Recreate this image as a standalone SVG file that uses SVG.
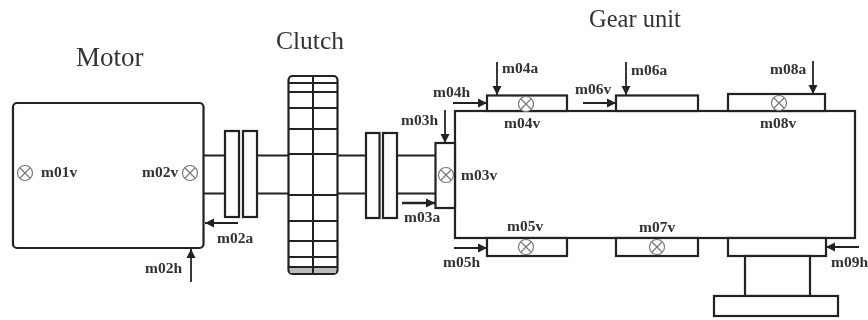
<svg xmlns="http://www.w3.org/2000/svg" width="868" height="320" viewBox="0 0 868 320">
<style>
.s{fill:#fff;stroke:#222;stroke-width:2.2}
.l{fill:none;stroke:#222;stroke-width:2}
.a{fill:none;stroke:#222;stroke-width:1.8;marker-end:url(#ah)}
.t{font-family:"Liberation Serif",serif;fill:#333}
.m{font-family:"Liberation Serif",serif;font-size:15.500px;font-weight:bold;fill:#333}
.c{fill:#fff;stroke:#777;stroke-width:1.200}
</style>
<defs>
<marker id="ah" markerUnits="userSpaceOnUse" markerWidth="10" markerHeight="10" refX="9" refY="5" orient="auto"><path d="M0 0.500L9 5L0 9.500Z" fill="#222"/></marker>
<g id="x"><circle class="c" r="7.500"/><path class="c" d="M-5-5L5 5M-5 5L5-5" fill="none"/></g>
<filter id="b" x="0" y="0" width="868" height="320" filterUnits="userSpaceOnUse"><feGaussianBlur stdDeviation="0.600"/></filter>
</defs>
<rect width="868" height="320" fill="#fff"/>
<g filter="url(#b)">
<g id="connectors">
<path class="l" d="M204 155.500H225M204 193.500H225M257 155.500H288M257 193.500H288M338 155.500H366M338 193.500H366M397 155.500H435M397 193.500H435"/>
<path class="a" d="M238 223H205"/>
<path class="a" d="M191 282V249"/>
<path class="a" d="M402 203H435" style="stroke-width:2.600"/>
<path class="a" d="M445 110V143"/>
<path class="a" d="M453 103H487"/>
<path class="a" d="M497 62V95"/>
<path class="a" d="M454 248H487"/>
<path class="a" d="M583 103H616"/>
<path class="a" d="M626 62V95"/>
<path class="a" d="M813 61V94"/>
<path class="a" d="M859 247H826"/>
</g>
<g id="motor">
<rect class="s" x="13" y="103" width="190.500" height="145" rx="4"/>
<use href="#x" x="25" y="173"/><use href="#x" x="190" y="173"/>
<text class="t" x="76" y="66" font-size="27">Motor</text>
<text class="m" x="41" y="177">m01v</text>
<text class="m" x="142" y="177">m02v</text>
<text class="m" x="217" y="243">m02a</text>
<text class="m" x="145" y="273">m02h</text>
</g>
<g id="coupling-1">
<rect class="s" x="225" y="131" width="14" height="86"/>
<rect class="s" x="243" y="131" width="14" height="86"/>
</g>
<g id="clutch">
<rect class="s" x="288.500" y="76" width="49" height="198" rx="4"/>
<rect x="290" y="267" width="46" height="6" fill="#bbb"/>
<path class="l" d="M313 76V274M288 83H338M288 92H338M288 108H338M288 129H338M288 154H338M288 195H338M288 221H338M288 241H338M288 257H338M288 267H338"/>
<text class="t" x="276" y="49" font-size="25.500">Clutch</text>
</g>
<g id="coupling-2">
<rect class="s" x="366" y="133" width="13.500" height="85"/>
<rect class="s" x="383" y="133" width="14" height="85"/>
</g>
<g id="gear-unit">
<rect class="s" x="455" y="111" width="400" height="127"/>
<text class="t" x="589" y="27" font-size="24.500">Gear unit</text>
</g>
<g id="m03">
<rect class="s" x="435.500" y="143" width="19.500" height="65"/>
<use href="#x" x="446" y="175"/>
<text class="m" x="461" y="180">m03v</text>
<text class="m" x="401" y="125">m03h</text>
<text class="m" x="404" y="222">m03a</text>
</g>
<g id="m04">
<rect class="s" x="487" y="95.500" width="80" height="15.500"/>
<use href="#x" x="526" y="104"/>
<text class="m" x="504" y="128">m04v</text>
<text class="m" x="433" y="97">m04h</text>
<text class="m" x="502" y="73">m04a</text>
</g>
<g id="m05">
<rect class="s" x="487" y="238" width="80" height="18"/>
<use href="#x" x="526" y="247"/>
<text class="m" x="507" y="231">m05v</text>
<text class="m" x="443" y="267">m05h</text>
</g>
<g id="m06">
<rect class="s" x="616" y="95.500" width="82" height="15.500"/>
<text class="m" x="575" y="94">m06v</text>
<text class="m" x="631" y="75">m06a</text>
</g>
<g id="m07">
<rect class="s" x="616" y="238" width="82" height="18"/>
<use href="#x" x="657" y="247"/>
<text class="m" x="639" y="232">m07v</text>
</g>
<g id="m08">
<rect class="s" x="728" y="94" width="97" height="17"/>
<use href="#x" x="779" y="103"/>
<text class="m" x="760" y="128">m08v</text>
<text class="m" x="770" y="74">m08a</text>
</g>
<g id="m09">
<rect class="s" x="728" y="238" width="98" height="18"/>
<rect class="s" x="745" y="256" width="65" height="40"/>
<rect class="s" x="714" y="296" width="124" height="20"/>
<text class="m" x="831" y="267">m09h</text>
</g>
</g>
</svg>
